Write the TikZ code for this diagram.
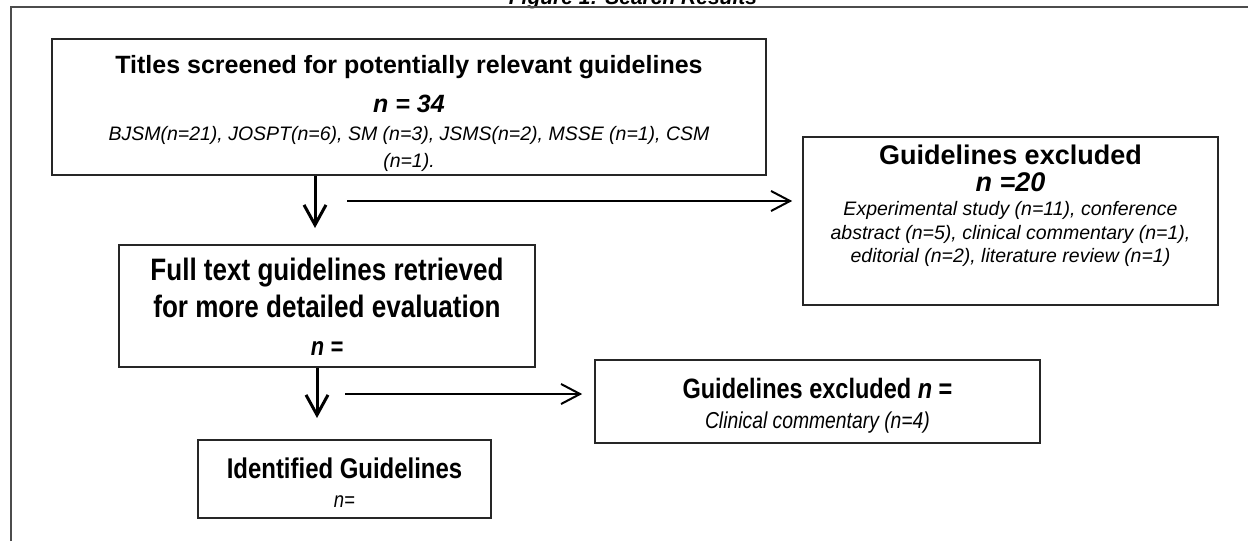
\documentclass[tikz,border=0pt]{standalone}
\usepackage{fontspec}
\setmainfont{Liberation Sans}
\newfontfamily\narrowfont[FakeStretch=0.84]{Liberation Sans}
\usepackage{tikz}
\usetikzlibrary{
    arrows.meta,
    calc
}

\newcommand{\fsize}[1]{\fontsize{#1}{0}\selectfont}
\newcommand{\tightlines}{\lineskiplimit=-500pt\relax}
\newcommand{\topgap}[1]{\rule{0pt}{#1pt}}
\newcommand{\botgap}[1]{\rule[-#1pt]{0pt}{#1pt}}

\begin{document}
\begin{tikzpicture}[x=1pt,y=-1pt,
    box/.style={draw=black!85, line width=1.6pt, inner xsep=0pt, inner ysep=0pt,
        align=center, font=\tightlines\fsize{20}},
    vflow/.style={line width=3pt, -{Straight Barb[length=20pt,width=22pt]}},
    hflow/.style={line width=2pt, -{Straight Barb[length=19pt,width=20pt]}},
    frame/.style={line width=1.5pt, draw=black!70}
]
\useasboundingbox (0,0) rectangle (1248,541);

% Caption (cut off at the top edge)
\node[font=\fsize{21}\bfseries\itshape, anchor=base] (caption) at (633,4.5) {Figure 1: Search Results};

% Frame
\draw[frame] (11,541) -- (11,7) -- (1248,7);

% Titles screened
\node[box, minimum width=714pt, minimum height=136pt] (titles) at (409,107) {%
    \fsize{25}\bfseries\topgap{34}Titles screened for potentially relevant guidelines\\[39pt]
    \fsize{25}\bfseries\itshape n = 34\\[28pt]
    \fsize{19.5}\itshape BJSM(n=21), JOSPT(n=6), SM (n=3), JSMS(n=2), MSSE (n=1), CSM\\[27pt]
    \fsize{19.5}\itshape\botgap{8}(n=1).};

% First exclusion
\node[box, minimum width=415pt, minimum height=168pt] (excl1) at (1010.5,221) {%
    \fsize{27}\bfseries\topgap{27}Guidelines excluded\\[27pt]
    \fsize{27}\bfseries\itshape n =20\\[24pt]
    \fsize{19.5}\itshape Experimental study (n=11), conference\\[24pt]
    \fsize{19.5}\itshape abstract (n=5), clinical commentary (n=1),\\[23pt]
    \fsize{19.5}\itshape\botgap{43}editorial (n=2), literature review (n=1)};

% Full text
\node[box, minimum width=416pt, minimum height=122pt] (fulltext) at (327,306) {%
    \narrowfont\fsize{31}\bfseries\topgap{35}Full text guidelines retrieved\\[37pt]
    \narrowfont\fsize{31}\bfseries for more detailed evaluation\\[38pt]
    \narrowfont\fsize{26}\bfseries\itshape\botgap{12}n =};

% Second exclusion
\node[box, minimum width=445pt, minimum height=83pt] (excl2) at (817.5,401.5) {%
    \narrowfont\fsize{28}\bfseries\topgap{38}Guidelines excluded \textit{n} =\\[30pt]
    \narrowfont\fsize{23}\itshape\botgap{15}Clinical commentary (n=4)};

% Identified
\node[box, minimum width=293pt, minimum height=78pt] (identified) at (344.5,479) {%
    \narrowfont\fsize{28.5}\bfseries\topgap{38}Identified Guidelines\\[29pt]
    \narrowfont\fsize{22}\itshape\botgap{11}n=};

% Arrows
\coordinate (tip1) at (315,228);
\draw[vflow] (titles.south -| tip1) -- (tip1);
\coordinate (tail1) at (347,201);
\draw[hflow, shorten >=10pt] (tail1) -- (tail1 -| excl1.west);

\coordinate (tip2) at (317,418);
\draw[vflow] (fulltext.south -| tip2) -- (tip2);
\coordinate (tail2) at (345,394);
\draw[hflow, shorten >=12pt] (tail2) -- (tail2 -| excl2.west);

\end{tikzpicture}
\end{document}
